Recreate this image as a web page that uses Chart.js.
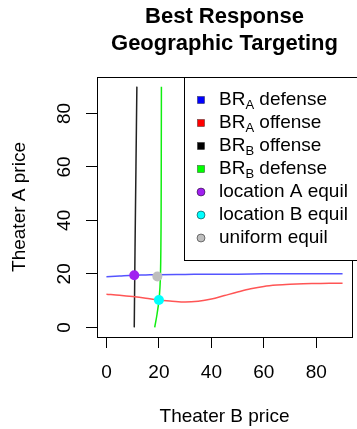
<!DOCTYPE html>
<html>
<head>
<meta charset="utf-8">
<script src="https://cdn.jsdelivr.net/npm/chart.js@4.4.0/dist/chart.umd.min.js"></script>
<style>
  html, body { margin: 0; padding: 0; background: #fff; }
</style>
</head>
<body>
<canvas id="brChart" width="357" height="429"></canvas>
<script>
const titleLines = ["Best Response", "Geographic Targeting"];
const xTitle = "Theater B price";
const yTitle = "Theater A price";
const tickVals = [0, 20, 40, 60, 80];

// BR_A defense (blue): theater A price as a function of B price
const braDefX = [0, 5, 10, 15, 20, 30, 40, 50, 60, 70, 80, 90];
const braDefY = [18.9, 19.2, 19.5, 19.6, 19.7, 19.8, 19.9, 19.9, 20.0, 20.0, 20.0, 20.0];

// BR_A offense (red)
const braOffX = [0, 5, 10, 15, 20, 25, 30, 35, 40, 45, 50, 55, 60, 65, 70, 75, 80, 85, 90];
const braOffY = [12.4, 12.0, 11.5, 10.9, 10.2, 9.8, 9.5, 9.8, 10.6, 11.9, 13.2, 14.4, 15.3, 15.8, 16.1, 16.3, 16.4, 16.5, 16.5];

// BR_B offense (black): theater B price as a function of A price
const brbOffY = [0, 30, 60, 90];
const brbOffX = [10.6, 10.9, 11.25, 11.6];

// BR_B defense (green)
const brbDefY = [0, 5, 10, 15, 20, 30, 45, 65, 90];
const brbDefX = [18.4, 19.3, 20.0, 20.4, 20.6, 20.75, 20.85, 20.9, 20.95];

// equilibria [B price, A price]
const eqLocA = [10.6, 19.5];
const eqLocB = [20.0, 10.2];
const eqUniform = [19.4, 19.0];

const FONT = '"Liberation Sans", Arial, Helvetica, sans-serif';
Chart.defaults.font.family = FONT;
Chart.defaults.color = '#000';

const toPts = (xs, ys) => xs.map((x, i) => ({ x: x, y: ys[i] }));

function curve(label, pts, color, legendColor, mono) {
  return {
    label: label, data: pts, showLine: true, borderColor: color, backgroundColor: legendColor,
    borderWidth: 1.5, pointRadius: 0, tension: 0.4,
    cubicInterpolationMode: mono ? 'monotone' : 'default', order: 1
  };
}
function equil(label, p, color) {
  return {
    label: label, data: [{ x: p[0], y: p[1] }], showLine: false,
    backgroundColor: color, borderColor: color, borderWidth: 0, pointRadius: 5, order: 0
  };
}

// R-like box, title, rotated y labels and legend with subscripts
const decor = {
  id: 'decor',
  afterDraw(chart) {
    const { ctx, chartArea: a } = chart;
    ctx.save();
    ctx.strokeStyle = '#000';
    ctx.lineWidth = 1;
    ctx.strokeRect(a.left + 0.5, a.top + 0.5, a.right - a.left, a.bottom - a.top);

    ctx.fillStyle = '#000';
    ctx.textAlign = 'center';
    ctx.textBaseline = 'alphabetic';
    ctx.font = 'bold 22px ' + FONT;
    const cx = (a.left + a.right) / 2;
    titleLines.forEach((t, i) => ctx.fillText(t, cx, 23 + i * 27));

    const ys = chart.scales.y;
    ctx.font = '19px ' + FONT;
    ctx.textBaseline = 'middle';
    ys.ticks.forEach(t => {
      ctx.save();
      ctx.translate(65, ys.getPixelForValue(t.value));
      ctx.rotate(-Math.PI / 2);
      ctx.fillText(String(t.value), 0, 0);
      ctx.restore();
    });

    // legend
    const lx = 184.5, ly = 77.5, lw = 200, lh = 183;
    ctx.fillStyle = '#fff';
    ctx.fillRect(lx, ly, lw, lh);
    ctx.strokeRect(lx, ly, lw, lh);
    chart.data.datasets.forEach((ds, i) => {
      const y = 100 + i * 23;
      if (ds.showLine) {
        ctx.fillStyle = ds.backgroundColor;
        ctx.fillRect(197.5, y - 3.5, 7, 7);
        ctx.strokeStyle = 'rgba(0,0,0,0.6)';
        ctx.lineWidth = 0.6;
        ctx.strokeRect(197.5, y - 3.5, 7, 7);
      } else {
        ctx.beginPath();
        ctx.arc(201, y, 4, 0, Math.PI * 2);
        ctx.fillStyle = ds.backgroundColor;
        ctx.fill();
        ctx.strokeStyle = 'rgba(0,0,0,0.6)';
        ctx.lineWidth = 0.8;
        ctx.stroke();
      }
      ctx.fillStyle = '#000';
      ctx.textAlign = 'left';
      ctx.textBaseline = 'middle';
      let x = 219;
      const m = ds.label.match(/^(\w+)_(\w)(.*)$/);
      if (m) {
        ctx.font = '19px ' + FONT;
        ctx.fillText(m[1], x, y);
        x += ctx.measureText(m[1]).width;
        ctx.font = '13px ' + FONT;
        ctx.fillText(m[2], x, y + 5);
        x += ctx.measureText(m[2]).width;
        ctx.font = '19px ' + FONT;
        ctx.fillText(m[3], x, y);
      } else {
        ctx.font = '19px ' + FONT;
        ctx.fillText(ds.label, x, y);
      }
    });
    ctx.restore();
  }
};

const axisGrid = { display: true, drawOnChartArea: false, drawTicks: true, tickLength: 11, color: '#000', lineWidth: 1 };

new Chart(document.getElementById('brChart').getContext('2d'), {
  type: 'scatter',
  data: {
    datasets: [
      curve('BR_A defense', toPts(braDefX, braDefY), '#5555ff', '#0000ff', true),
      curve('BR_A offense', toPts(braOffX, braOffY), '#ff5555', '#ff0000', true),
      curve('BR_B offense', toPts(brbOffX, brbOffY), '#222222', '#000000', false),
      curve('BR_B defense', toPts(brbDefX, brbDefY), '#11ee11', '#00ff00', false),
      equil('location A equil', eqLocA, '#a020f0'),
      equil('location B equil', eqLocB, '#00ffff'),
      equil('uniform equil', eqUniform, '#bebebe')
    ]
  },
  options: {
    responsive: false,
    animation: false,
    events: [],
    layout: { padding: { top: 77, left: 0, right: 0, bottom: 0 } },
    plugins: { legend: { display: false }, title: { display: false }, tooltip: { enabled: false } },
    scales: {
      x: {
        type: 'linear', min: -3.6, max: 93.6,
        afterBuildTicks: s => { s.ticks = tickVals.map(v => ({ value: v })); },
        afterFit: s => { s.height = 92; },
        grid: axisGrid,
        border: { display: false },
        ticks: { color: '#000', font: { size: 19 }, padding: 13, maxRotation: 0, autoSkip: false },
        title: { display: true, text: xTitle, color: '#000', font: { size: 19 }, padding: { top: 0, bottom: 1 } }
      },
      y: {
        type: 'linear', min: -3.6, max: 93.6,
        afterBuildTicks: s => { s.ticks = tickVals.map(v => ({ value: v })); },
        afterFit: s => { s.width = 97; },
        grid: axisGrid,
        border: { display: false },
        ticks: { display: false },
        title: { display: true, text: yTitle, color: '#000', font: { size: 19 }, padding: { top: 8, bottom: 0 } }
      }
    }
  },
  plugins: [decor]
});
</script>
</body>
</html>
